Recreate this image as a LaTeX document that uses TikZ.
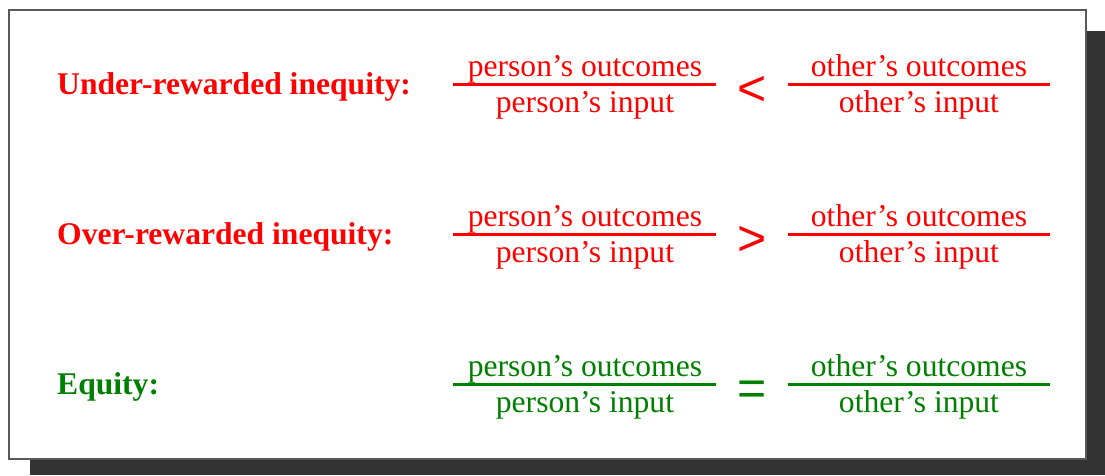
\documentclass[tikz,border=0pt]{standalone}
\usepackage{fontspec}
\setmainfont{Liberation Serif}
\newfontfamily\symfont{Liberation Sans}
\definecolor{eqred}{RGB}{255,0,0}
\definecolor{eqgreen}{RGB}{0,128,0}
\definecolor{shadowgray}{RGB}{51,51,51}
\begin{document}
\begin{tikzpicture}[x=1pt,y=-1pt,
  lbl/.style={anchor=base west,inner sep=0pt,font=\fontsize{31.6}{31.6}\selectfont\bfseries},
  ftext/.style={anchor=base,inner sep=0pt,font=\fontsize{31.6}{31.6}\selectfont},
  rel/.style={anchor=base,inner sep=0pt,font=\symfont\fontsize{50}{50}\selectfont},
  fline/.style={line width=3pt}]
\useasboundingbox (0,0) rectangle (1105,475);
\fill[shadowgray] (30,31) rectangle (1105,475);
\draw[fill=white,draw=gray!70!black,line width=1.5pt] (9,10) rectangle (1086,459);
\foreach \row/\col/\name/\sym in {0/eqred/Under-rewarded inequity:/<, 150/eqred/Over-rewarded inequity:/>, 300/eqgreen/Equity:/=}{
  \begin{scope}[yshift=-\row pt, text=\col]
    \node[lbl] (label) at (57,94) {\name};
    \node[ftext] (pnum) at (585,76) {person’s outcomes};
    \node[ftext] (pden) at (585,112.5) {person’s input};
    \node[ftext] (onum) at (919,76) {other’s outcomes};
    \node[ftext] (oden) at (919,112.5) {other’s input};
    \node[rel] (relsym) at (752,105) {\sym};
    \draw[fline,\col] (453,84.5) -- (716,84.5);
    \draw[fline,\col] (788,84.5) -- (1050,84.5);
  \end{scope}
}
\end{tikzpicture}
\end{document}
